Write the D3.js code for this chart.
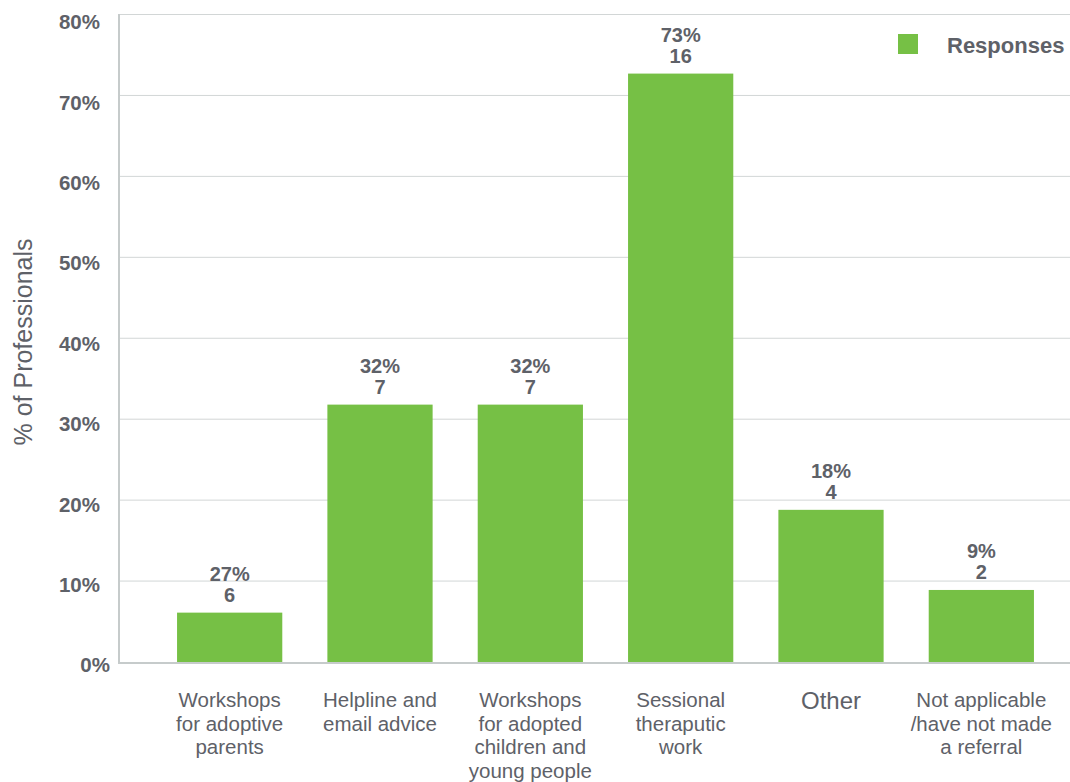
<!DOCTYPE html>
<html>
<head>
<meta charset="utf-8">
<script src="https://cdn.jsdelivr.net/npm/d3@7"></script>
<style>
  html, body { margin: 0; padding: 0; background: #fff; }
  svg { display: block; }
</style>
</head>
<body>
<svg id="chart" width="1070" height="782"></svg>
<script>
// Referral services used by professionals
const categories = [
  ["Workshops", "for adoptive", "parents"],
  ["Helpline and", "email advice"],
  ["Workshops", "for adopted", "children and", "young people"],
  ["Sessional", "theraputic", "work"],
  ["Other"],
  ["Not applicable", "/have not made", "a referral"]
];
const barValues = [6.1, 31.8, 31.8, 72.7, 18.8, 8.9];     // bar height, % of professionals
const pctLabels = ["27%", "32%", "32%", "73%", "18%", "9%"];
const counts = [6, 7, 7, 16, 4, 2];
const yTicks = [0, 10, 20, 30, 40, 50, 60, 70, 80];
const seriesName = "Responses";

const green = "#76c045";
const textGray = "#5e6168";
const gridGray = "#d2d6d6";
const axisGray = "#c6cbcb";
const baseFont = "'Liberation Sans', Arial, sans-serif";

const svg = d3.select("#chart");
const plot = { left: 119, right: 1070, top: 14.5, bottom: 662 };

const x = d3.scaleBand()
  .domain(d3.range(categories.length))
  .range([154.5, 1056.5])
  .paddingInner(0.3)
  .paddingOuter(0.15);

const y = d3.scaleLinear().domain([0, 80]).range([plot.bottom, plot.top]);

// gridlines
svg.append("g")
  .selectAll("line")
  .data(yTicks.filter(d => d > 0))
  .join("line")
  .attr("x1", plot.left).attr("x2", plot.right)
  .attr("y1", d => y(d)).attr("y2", d => y(d))
  .attr("stroke", gridGray).attr("stroke-width", 1);

// y tick labels
svg.append("g")
  .selectAll("text")
  .data(yTicks)
  .join("text")
  .attr("x", d => d === 0 ? 110 : 100)
  .attr("y", d => y(d) + 3 + d * 0.06)
  .attr("dy", "0.35em")
  .attr("text-anchor", "end")
  .attr("font-family", baseFont)
  .attr("font-weight", "bold")
  .attr("font-size", 20.5)
  .attr("fill", textGray)
  .text(d => d + "%");

// bars
svg.append("g")
  .selectAll("rect")
  .data(barValues)
  .join("rect")
  .attr("x", (d, i) => x(i))
  .attr("width", x.bandwidth())
  .attr("y", d => y(d))
  .attr("height", d => y(0) - y(d))
  .attr("fill", green);

// axis lines
svg.append("line")
  .attr("x1", plot.left).attr("x2", plot.left)
  .attr("y1", plot.top - 0.5).attr("y2", plot.bottom + 1)
  .attr("stroke", axisGray).attr("stroke-width", 2);
svg.append("line")
  .attr("x1", plot.left - 1).attr("x2", plot.right)
  .attr("y1", plot.bottom + 1).attr("y2", plot.bottom + 1)
  .attr("stroke", axisGray).attr("stroke-width", 2);

// value labels: percentage and count
const vl = svg.append("g")
  .attr("font-family", baseFont)
  .attr("font-weight", "bold")
  .attr("font-size", 20)
  .attr("fill", textGray)
  .attr("text-anchor", "middle");
vl.selectAll("text.pct")
  .data(barValues)
  .join("text")
  .attr("class", "pct")
  .attr("x", (d, i) => x(i) + x.bandwidth() / 2)
  .attr("y", d => y(d) - 32)
  .text((d, i) => pctLabels[i]);
vl.selectAll("text.cnt")
  .data(barValues)
  .join("text")
  .attr("class", "cnt")
  .attr("x", (d, i) => x(i) + x.bandwidth() / 2)
  .attr("y", d => y(d) - 11)
  .text((d, i) => counts[i]);

// category labels
const cl = svg.append("g")
  .attr("font-family", baseFont)
  .attr("fill", textGray)
  .attr("text-anchor", "middle");
categories.forEach((lines, i) => {
  const single = lines.length === 1;
  const t = cl.append("text")
    .attr("x", x(i) + x.bandwidth() / 2)
    .attr("y", single ? 709 : 707)
    .attr("font-size", single ? 24 : 20.5);
  lines.forEach((ln, j) => {
    t.append("tspan")
      .attr("x", x(i) + x.bandwidth() / 2)
      .attr("dy", j === 0 ? 0 : 23.5)
      .text(ln);
  });
});

// y axis title
svg.append("text")
  .attr("transform", "translate(32,342) rotate(-90)")
  .attr("text-anchor", "middle")
  .attr("font-family", baseFont)
  .attr("font-size", 25)
  .attr("fill", textGray)
  .text("% of Professionals");

// legend
const lg = svg.append("g").attr("transform", "translate(898,34)");
lg.append("rect").attr("width", 20).attr("height", 20).attr("fill", green);
lg.append("text")
  .attr("x", 49).attr("y", 11.5)
  .attr("font-family", baseFont)
  .attr("font-weight", "bold")
  .attr("font-size", 22)
  .attr("fill", textGray)
  .attr("dy", "0.36em")
  .text(seriesName);
</script>
</body>
</html>
